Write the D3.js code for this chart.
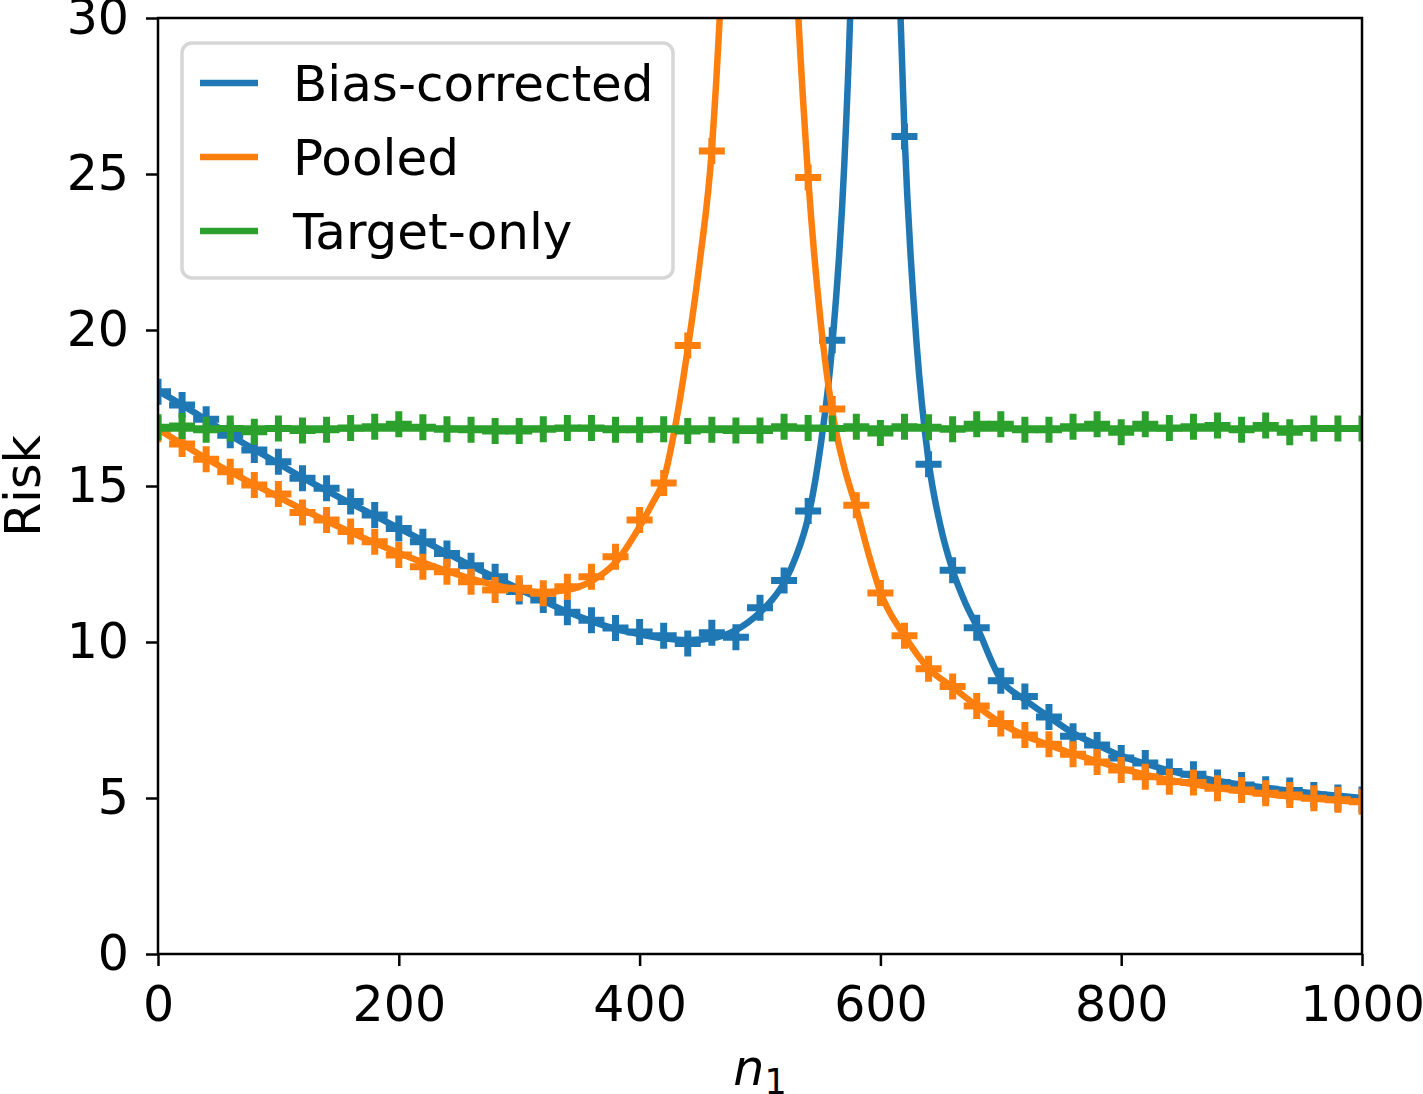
<!DOCTYPE html>
<html>
<head>
<meta charset="utf-8">
<script src="https://cdn.jsdelivr.net/npm/d3@7"></script>
<style>
body { margin: 0; background: #fff; }
text { font-family: "DejaVu Sans", sans-serif; }
</style>
</head>
<body>
<div id="chart-area"></div>
<script>
// simulated points, one every 20 in n1
var sampleN = [0, 20, 40, 60, 80, 100, 120, 140, 160, 180, 200, 220, 240, 260, 280, 300, 320, 340, 360, 380,
    400, 420, 440, 460, 480, 500, 520, 540, 560, 580, 600, 620, 640, 660, 680, 700, 720, 740, 760, 780,
    800, 820, 840, 860, 880, 900, 920, 940, 960, 980, 1000];

var biasSamples = [18.02, 17.6, 17.14, 16.63, 16.15, 15.78, 15.25, 14.93, 14.5, 14.07, 13.64, 13.21, 12.84, 12.44, 12.09, 11.62, 11.35, 10.95, 10.7, 10.45,
    10.32, 10.2, 9.95, 10.3, 10.15, 11.1, 11.97, 14.2, 19.67, 38, 170, 26.2, 15.7, 12.3, 10.46, 8.76, 8.25, 7.6, 6.98, 6.7,
    6.28, 6.12, 5.85, 5.76, 5.5, 5.42, 5.28, 5.24, 5.1, 5.02, 4.95];

var pooledSamples = [16.82, 16.35, 15.86, 15.46, 15.03, 14.74, 14.15, 13.91, 13.54, 13.21, 12.79, 12.41, 12.25, 11.93, 11.67, 11.72, 11.56, 11.77, 12.09, 12.73,
    13.91, 15.1, 19.5, 25.74, 46, 350, 47, 24.89, 17.47, 14.38, 11.57, 10.2, 9.14, 8.57, 7.95, 7.39, 7.02, 6.72, 6.4, 6.15,
    5.9, 5.68, 5.52, 5.5, 5.31, 5.26, 5.15, 5.1, 4.99, 4.94, 4.88];

var targetSamples = [16.88, 16.92, 16.8, 16.84, 16.74, 16.84, 16.78, 16.8, 16.86, 16.9, 16.98, 16.88, 16.82, 16.8, 16.76, 16.76, 16.82, 16.86, 16.86, 16.8,
    16.8, 16.82, 16.76, 16.8, 16.78, 16.78, 16.9, 16.86, 16.84, 16.9, 16.7, 16.9, 16.88, 16.82, 16.98, 16.98, 16.8, 16.8, 16.9, 16.98,
    16.72, 16.98, 16.86, 16.9, 16.94, 16.8, 16.94, 16.72, 16.84, 16.84, 16.84];

// theoretical curves (null = break at the pole)
var biasLineN = [0, 20, 40, 60, 80, 100, 120, 140, 160, 180, 200, 220, 240, 260, 280, 300, 320, 340, 360, 380,
    400, 420, 440, 460, 480, 500, 510, 520, 530, 540, 550, 560, 570, 575, 580,
    595,
    610, 615, 620, 630, 640, 650, 660, 670, 680, 700, 720, 740, 760, 780,
    800, 820, 840, 860, 880, 900, 920, 940, 960, 980, 1000];
var biasLineRisk = [18.05, 17.6, 17.12, 16.63, 16.17, 15.72, 15.27, 14.85, 14.45, 14.05, 13.65, 13.25, 12.85, 12.45, 12.07, 11.7, 11.32, 10.97, 10.67, 10.42,
    10.25, 10.12, 10.06, 10.12, 10.38, 10.95, 11.35, 11.9, 12.75, 14.0, 16.2, 19.5, 25.3, 30.2, 38,
    null,
    40, 32, 26.3, 19.6, 15.8, 13.7, 12.3, 11.3, 10.5, 8.8, 8.15, 7.6, 7.08, 6.7,
    6.35, 6.1, 5.88, 5.7, 5.55, 5.43, 5.33, 5.23, 5.15, 5.07, 5.0];

var pooledLineN = [0, 20, 40, 60, 80, 100, 120, 140, 160, 180, 200, 220, 240, 260, 280, 300, 320, 340, 360, 380,
    400, 410, 420, 430, 440, 450, 460, 470, 480,
    500,
    520, 530, 540, 550, 560, 570, 580, 590, 600, 620, 640, 660, 680, 700, 720, 740, 760, 780,
    800, 820, 840, 860, 880, 900, 920, 940, 960, 980, 1000];
var pooledLineRisk = [16.82, 16.35, 15.88, 15.45, 15.05, 14.65, 14.25, 13.88, 13.52, 13.18, 12.85, 12.55, 12.28, 12.03, 11.82, 11.67, 11.6, 11.67, 11.95, 12.55,
    13.7, 14.4, 15.2, 17.0, 19.4, 22.2, 25.8, 33, 45,
    null,
    42, 31.5, 24.9, 20.4, 17.4, 15.6, 14.3, 12.85, 11.6, 10.2, 9.15, 8.55, 7.95, 7.4, 7.0, 6.7, 6.42, 6.18,
    5.95, 5.75, 5.58, 5.44, 5.32, 5.22, 5.13, 5.05, 4.98, 4.92, 4.87];

var targetLineN = [0, 1000];
var targetLineRisk = [16.84, 16.84];

var seriesNames = ["Bias-corrected", "Pooled", "Target-only"];
var seriesColors = ["#1f77b4", "#ff7f0e", "#2ca02c"];

var xTicks = [0, 200, 400, 600, 800, 1000];
var yTicks = [0, 5, 10, 15, 20, 25, 30];

var margin = { left: 158, right: 61, top: 18, bottom: 140 };

var width = 1423 - margin.left - margin.right,
    height = 1094 - margin.top - margin.bottom;

var svg = d3.select("#chart-area")
    .append("svg")
        .attr("width", width + margin.left + margin.right)
        .attr("height", height + margin.top + margin.bottom);

var g = svg.append("g")
    .attr("transform", "translate(" + margin.left + "," + margin.top + ")");

var x = d3.scaleLinear().domain([0, 1000]).range([0, width]);
var y = d3.scaleLinear().domain([0, 30]).range([height, 0]);

g.append("clipPath")
    .attr("id", "plot-clip")
  .append("rect")
    .attr("width", width)
    .attr("height", height);

var plot = g.append("g").attr("clip-path", "url(#plot-clip)");

var line = d3.line()
    .defined(d => d[1] != null)
    .x(d => x(d[0]))
    .y(d => y(d[1]))
    .curve(d3.curveMonotoneX);

var plus = "M-13,0H13M0,-13V13";

var series = [
    { lineN: biasLineN, lineR: biasLineRisk, samples: biasSamples },
    { lineN: pooledLineN, lineR: pooledLineRisk, samples: pooledSamples },
    { lineN: targetLineN, lineR: targetLineRisk, samples: targetSamples }
];

series.forEach((s, i) => {
    plot.append("path")
        .datum(s.lineN.map((n, j) => [n, s.lineR[j]]))
        .attr("d", line)
        .attr("fill", "none")
        .attr("stroke", seriesColors[i])
        .attr("stroke-width", 6.5);

    plot.selectAll(".m" + i)
        .data(sampleN.map((n, j) => [n, s.samples[j]]))
        .enter()
        .append("path")
            .attr("class", "m" + i)
            .attr("transform", d => "translate(" + x(d[0]) + "," + y(d[1]) + ")")
            .attr("d", plus)
            .attr("stroke", seriesColors[i])
            .attr("stroke-width", 7)
            .attr("fill", "none");
});

// axes
var xAxisCall = d3.axisBottom(x)
    .tickValues(xTicks)
    .tickFormat(d3.format("d"))
    .tickSize(12)
    .tickPadding(20)
    .tickSizeOuter(0);

var xAxis = g.append("g")
    .attr("transform", "translate(0," + height + ")")
    .call(xAxisCall);

var yAxisCall = d3.axisLeft(y)
    .tickValues(yTicks)
    .tickSize(12)
    .tickPadding(17)
    .tickSizeOuter(0);

var yAxis = g.append("g").call(yAxisCall);

[xAxis, yAxis].forEach(a => {
    a.select(".domain").remove();
    a.selectAll(".tick line").attr("stroke", "#000").attr("stroke-width", 2.5);
    a.selectAll(".tick text")
        .attr("fill", "#000")
        .attr("font-size", "49px")
        .attr("font-family", "DejaVu Sans, sans-serif");
});

// spines
g.append("rect")
    .attr("width", width)
    .attr("height", height)
    .attr("fill", "none")
    .attr("stroke", "#000")
    .attr("stroke-width", 2.5);

// Y Label
g.append("text")
    .attr("transform", "translate(" + (40 - margin.left) + "," + (height / 2) + ") rotate(-90)")
    .attr("text-anchor", "middle")
    .attr("font-size", "49px")
    .text("Risk");

// X Label
var xl = g.append("text")
    .attr("x", width / 2)
    .attr("y", height + 131)
    .attr("text-anchor", "middle")
    .attr("font-size", "49px");
xl.append("tspan").attr("font-style", "italic").text("n");
xl.append("tspan").attr("font-size", "35px").attr("dy", 9).text("1");

// legend
var legend = g.append("g").attr("transform", "translate(24,25)");

legend.append("rect")
    .attr("width", 491)
    .attr("height", 235)
    .attr("rx", 10)
    .attr("fill", "#fff")
    .attr("fill-opacity", 0.8)
    .attr("stroke", "#d6d6d6")
    .attr("stroke-width", 3.5);

seriesNames.forEach((name, i) => {
    var row = legend.append("g").attr("transform", "translate(0," + (40 + i * 74) + ")");
    row.append("line")
        .attr("x1", 18).attr("x2", 76)
        .attr("stroke", seriesColors[i])
        .attr("stroke-width", 6.5);
    row.append("text")
        .attr("x", 111)
        .attr("dy", "0.36em")
        .attr("font-size", "50px")
        .text(name);
});
</script>
</body>
</html>
